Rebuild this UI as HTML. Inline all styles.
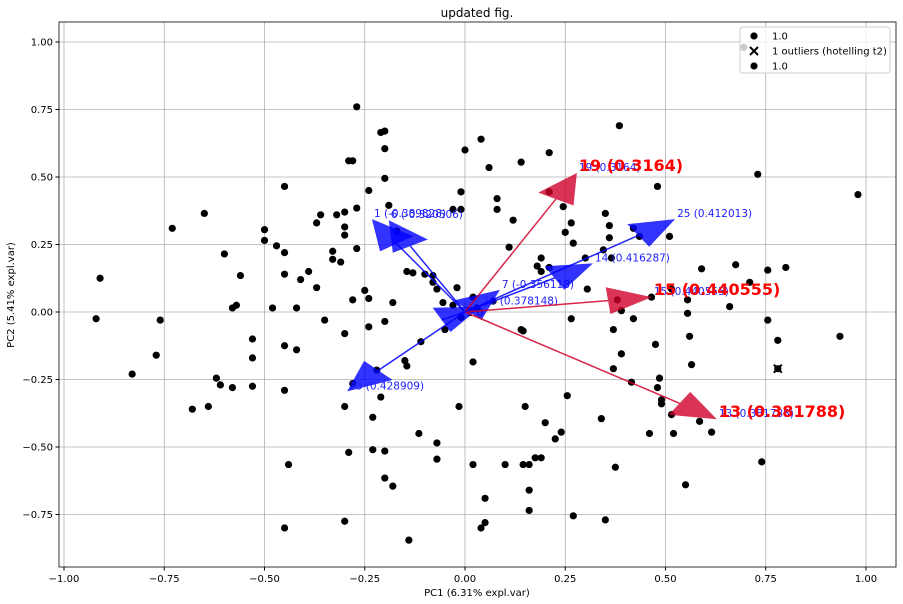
<!DOCTYPE html>
<html><head><meta charset="utf-8"><style>
body{margin:0;background:#fff}
svg{display:block;font-family:"DejaVu Sans","Liberation Sans",sans-serif}
</style></head><body>
<svg id="c" width="903" height="604"></svg>
<script>
const xs=[-0.91,-0.92,-0.76,-0.77,-0.83,-0.73,-0.68,-0.65,-0.64,-0.62,-0.61,-0.60,-0.58,-0.57,-0.58,-0.56,-0.53,-0.53,-0.53,-0.50,-0.50,-0.48,-0.47,-0.45,-0.45,-0.45,-0.45,-0.45,-0.45,-0.44,-0.42,-0.42,-0.41,-0.39,-0.37,-0.37,-0.36,-0.35,-0.33,-0.33,-0.32,-0.31,-0.30,-0.30,-0.30,-0.30,-0.30,-0.30,-0.29,-0.29,-0.28,-0.28,-0.28,-0.27,-0.27,-0.27,-0.25,-0.24,-0.24,-0.24,-0.23,-0.23,-0.22,-0.21,-0.21,-0.20,-0.20,-0.20,-0.20,-0.20,-0.20,-0.19,-0.18,-0.18,-0.17,-0.15,-0.145,-0.145,-0.14,-0.13,-0.11,-0.115,-0.10,-0.08,-0.08,-0.07,-0.07,-0.07,-0.055,-0.05,-0.03,-0.03,-0.02,-0.015,-0.01,-0.01,-0.01,0.0,0.02,0.02,0.02,0.03,0.04,0.04,0.05,0.05,0.06,0.07,0.08,0.08,0.10,0.11,0.12,0.14,0.145,0.14,0.145,0.15,0.16,0.16,0.16,0.175,0.18,0.19,0.19,0.19,0.20,0.21,0.21,0.21,0.225,0.24,0.245,0.25,0.255,0.265,0.265,0.27,0.27,0.30,0.305,0.34,0.345,0.35,0.35,0.36,0.36,0.365,0.37,0.37,0.375,0.38,0.385,0.39,0.39,0.415,0.42,0.42,0.435,0.46,0.465,0.475,0.48,0.485,0.48,0.49,0.49,0.515,0.515,0.52,0.51,0.55,0.555,0.555,0.56,0.565,0.585,0.59,0.615,0.66,0.675,0.695,0.71,0.73,0.74,0.755,0.755,0.78,0.80,0.935,0.98];
const ys=[0.125,-0.025,-0.03,-0.16,-0.23,0.31,-0.36,0.365,-0.35,-0.245,-0.27,0.215,0.015,0.025,-0.28,0.135,-0.10,-0.17,-0.275,0.265,0.305,0.015,0.245,0.465,0.14,-0.125,-0.29,0.22,-0.80,-0.565,-0.14,0.015,0.12,0.15,0.09,0.33,0.36,-0.03,0.195,0.225,0.36,0.185,0.37,0.315,0.285,-0.08,-0.35,-0.775,0.56,-0.52,-0.265,0.045,0.56,0.76,0.235,0.385,0.08,0.45,0.05,-0.055,-0.51,-0.39,-0.215,-0.315,0.665,0.67,0.605,0.495,-0.615,-0.515,-0.035,0.395,0.035,-0.645,0.30,-0.18,-0.20,0.15,-0.845,0.145,-0.11,-0.45,0.14,0.135,0.11,0.085,-0.485,-0.545,0.035,-0.065,0.025,0.38,0.09,-0.35,0.445,0.38,-0.02,0.60,0.055,-0.185,-0.565,0.015,-0.80,0.64,-0.69,-0.78,0.535,0.04,0.42,0.38,-0.565,0.24,0.34,-0.065,-0.07,0.555,-0.565,-0.35,-0.66,-0.735,-0.565,-0.54,0.17,-0.54,0.15,0.20,-0.41,0.445,0.59,0.165,-0.47,-0.445,0.39,0.295,-0.31,-0.025,0.33,0.255,-0.755,0.20,0.085,-0.395,0.23,-0.77,0.365,0.32,0.275,0.20,-0.065,-0.21,-0.575,0.045,0.69,-0.155,0.005,-0.26,-0.025,0.31,0.28,-0.45,0.055,-0.12,0.465,-0.245,-0.28,-0.325,-0.34,-0.38,0.085,-0.45,0.28,-0.64,0.045,-0.005,-0.09,-0.195,-0.405,0.16,-0.445,0.02,0.175,0.98,0.11,0.51,-0.555,0.155,-0.03,-0.105,0.165,-0.09,0.435,-0.005];
const outX=[0.78], outY=[-0.21];
const arrowNames=["1","6","7","10","13","14","15","19","23","25"];
const arrowLabels=["1 (-0.389828)","6 (-0.320506)","7 (-0.356118)","10 (0.378148)","13 (0.381788)","14 (0.416287)","15 (0.440555)","19 (0.3164)","23 (0.428909)","25 (0.412013)"];
const arrowX=[-0.232,-0.19,0.087,0.04,0.628,0.319,0.466,0.279,-0.294,0.524];
const arrowY=[0.344,0.34,0.082,0.02,-0.397,0.18,0.055,0.515,-0.294,0.344];
const arrowRed=[0,0,0,0,1,0,1,1,0,0];
const xTicks=[-1.0,-0.75,-0.5,-0.25,0,0.25,0.5,0.75,1.0];
const xTickLabels=["−1.00","−0.75","−0.50","−0.25","0.00","0.25","0.50","0.75","1.00"];
const yTicks=[-0.75,-0.5,-0.25,0,0.25,0.5,0.75,1.0];
const yTickLabels=["−0.75","−0.50","−0.25","0.00","0.25","0.50","0.75","1.00"];

const NS="http://www.w3.org/2000/svg";
const svg=document.getElementById('c');
const L=59,T=22,R=896,B=567;
const sx=v=>465+v*401, sy=v=>312-v*270;
function mk(tag,attrs,parent){const e=document.createElementNS(NS,tag);for(const k in attrs)e.setAttribute(k,attrs[k]);(parent||svg).appendChild(e);return e;}
let t=mk('text',{x:477,y:17,'text-anchor':'middle','font-size':12});t.textContent='updated fig.';


xTicks.forEach((v,i)=>{const x=sx(v);
 let g=mk('line',{x1:x,x2:x,y1:T,y2:B,stroke:'#b0b0b0','stroke-width':0.8});
 
 
 mk('line',{x1:x,x2:x,y1:B,y2:B+3.5,stroke:'#000'});
 let l=mk('text',{x:x,y:B+15,'text-anchor':'middle','font-size':10});l.textContent=xTickLabels[i];
 
 });
yTicks.forEach((v,i)=>{const y=sy(v);
 let g=mk('line',{x1:L,x2:R,y1:y,y2:y,stroke:'#b0b0b0','stroke-width':0.8});
 
 
 mk('line',{x1:L-3.5,x2:L,y1:y,y2:y,stroke:'#000'});
 let l=mk('text',{x:L-6,y:y+3.5,'text-anchor':'end','font-size':10});l.textContent=yTickLabels[i];
 
 });
let xl=mk('text',{x:477,y:596,'text-anchor':'middle','font-size':10});xl.textContent='PC1 (6.31% expl.var)';


let yl=mk('text',{x:14,y:295,'text-anchor':'middle','font-size':10,transform:'rotate(-90 14 295)'});yl.textContent='PC2 (5.41% expl.var)';


xs.forEach((v,i)=>{const c=mk('circle',{cx:sx(v),cy:sy(ys[i]),r:3.6,fill:'#000'});
 
 });
outX.forEach((v,i)=>{const x=sx(v),y=sy(outY[i]);
 const d=mk('circle',{cx:x,cy:y,r:3.6,fill:'#000'});
 
 
 const p=mk('path',{d:`M${x-4} ${y-4}L${x+4} ${y+4}M${x-4} ${y+4}L${x+4} ${y-4}`,stroke:'#000','stroke-width':2});
 
 });
let ol=mk('text',{x:466,y:316,'font-size':11});ol.textContent='1.0';


const HL=0.11,HW=0.1;
arrowX.forEach((ax,i)=>{const ay=arrowY[i];const col=arrowRed[i]?'#d0002a':'#0000ff';
 const n=Math.hypot(ax,ay),dx=ax/n,dy=ay/n;
 const bx=ax-HL*dx,by=ay-HL*dy;
 const g=mk('g',{});
 
 
 mk('line',{x1:sx(0),y1:sy(0),x2:sx(bx),y2:sy(by),stroke:col,'stroke-width':1.5,opacity:0.85},g);
 const pts=[[ax,ay],[bx-HW/2*dy,by+HW/2*dx],[bx+HW/2*dy,by-HW/2*dx]].map(p=>sx(p[0])+','+sy(p[1])).join(' ');
 mk('polygon',{points:pts,fill:col,opacity:0.8},g);
 const lb=mk('text',{x:sx(ax)+2,y:sy(ay)-2,'font-size':10.5,fill:'#2020ff'});lb.textContent=arrowLabels[i];
 
 
 if(arrowRed[i]){const rl=mk('text',{x:sx(ax)+2,y:sy(ay)-2,'font-size':16,'font-weight':'bold',fill:'#ff0000'});rl.textContent=arrowLabels[i];
  
  }
});
let fr=mk('rect',{x:L,y:T,width:R-L,height:B-T,fill:'none',stroke:'#000','stroke-width':0.8});


const lg=mk('g',{});


mk('rect',{x:740,y:27,width:150,height:46,rx:3,fill:'#fff','fill-opacity':0.8,stroke:'#ccc'},lg);
const legTxt=['1.0','1 outliers (hotelling t2)','1.0'];
legTxt.forEach((s,i)=>{const y=36+i*15;
 if(i==1)mk('path',{d:`M750 ${y-4}L758 ${y+4}M750 ${y+4}L758 ${y-4}`,stroke:'#000','stroke-width':2},lg);
 else mk('circle',{cx:754,cy:y,r:3.6,fill:'#000'},lg);
 const tx=mk('text',{x:772,y:y+3.5,'font-size':10},lg);tx.textContent=s;
 
 });
</script>
</body></html>
